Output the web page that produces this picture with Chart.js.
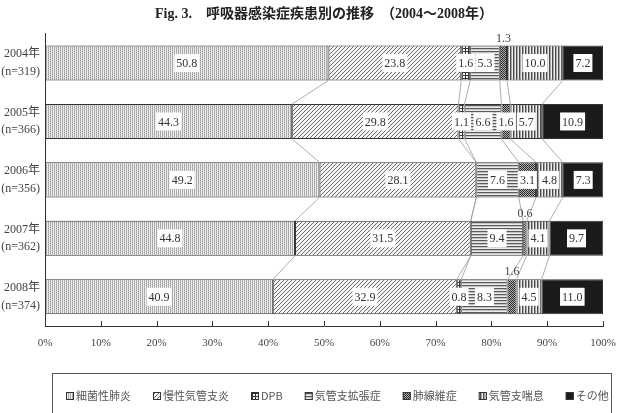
<!DOCTYPE html>
<html>
<head>
<meta charset="utf-8">
<script src="https://cdn.jsdelivr.net/npm/chart.js@4.4.0/dist/chart.umd.min.js"></script>
<style>
  body { margin: 0; background: #fff; }
</style>
</head>
<body>
<canvas id="chart" width="618" height="413"></canvas>
<script>
// データ（%）
const years = ['2004年', '2005年', '2006年', '2007年', '2008年'];
const nCounts = [319, 366, 356, 362, 374];
const diseases = ['細菌性肺炎', '慢性気管支炎', 'DPB', '気管支拡張症', '肺線維症', '気管支喘息', 'その他'];
const bacterialPneumonia = [50.8, 44.3, 49.2, 44.8, 40.9];
const chronicBronchitis = [23.8, 29.8, 28.1, 31.5, 32.9];
const dpb = [1.6, 1.1, 0, 0, 0.8];
const bronchiectasis = [5.3, 6.6, 7.6, 9.4, 8.3];
const fibrosis = [1.3, 1.6, 3.1, 0.6, 1.6];
const asthma = [10.0, 5.7, 4.8, 4.1, 4.5];
const others = [7.2, 10.9, 7.3, 9.7, 11.0];
const xTickLabels = ['0%', '10%', '20%', '30%', '40%', '50%', '60%', '70%', '80%', '90%', '100%'];

const serif = '"Liberation Serif", "Noto Sans CJK JP", serif';
const canvas = document.getElementById('chart');
const ctx = canvas.getContext('2d');

// ハッチング用のパターン
function tile(rows, palette) {
  const c = document.createElement('canvas');
  c.width = rows[0].length;
  c.height = rows.length;
  const t = c.getContext('2d');
  rows.forEach((r, j) => {
    [...r].forEach((ch, i) => {
      t.fillStyle = palette[ch];
      t.fillRect(i, j, 1, 1);
    });
  });
  return ctx.createPattern(c, 'repeat');
}

const fills = [
  tile(['dwgw', 'gwdw'], { d: '#9a9a9a', g: '#bcbcbc', w: '#ececec' }),
  tile(['...d', '..d.', '.d..', 'd...'], { d: '#6a6a6a', '.': '#f4f4f4' }),
  tile(['ddd', 'd..', 'd..'], { d: '#333', '.': '#fff' }),
  tile(['d', 'l', 'w'], { d: '#5a5a5a', l: '#c4c4c4', w: '#ececec' }),
  tile(['dl', 'ld'], { d: '#2a2a2a', l: '#b0b0b0' }),
  tile(['dlw'], { d: '#4a4a4a', l: '#a8a8a8', w: '#eeeeee' }),
  '#1b1b1b'
];

const seriesValues = [bacterialPneumonia, chronicBronchitis, dpb, bronchiectasis, fibrosis, asthma, others];

// 小さい値はバーの上に表示（行, 系列）
const aboveLabels = [[0, 4], [3, 4], [4, 4]];

const yLabels = years.map((y, i) => [y, '(n=' + nCounts[i] + ')']);

const barDecor = {
  id: 'barDecor',
  beforeDatasetsDraw(chart) {
    // 各バー間の連結線
    const c = chart.ctx;
    const x = chart.scales.x;
    const meta0 = chart.getDatasetMeta(0);
    c.save();
    c.strokeStyle = '#999';
    c.lineWidth = 0.8;
    for (let k = 0; k < seriesValues.length - 1; k++) {
      for (let j = 0; j < years.length - 1; j++) {
        let a = 0, b = 0;
        for (let s = 0; s <= k; s++) { a += seriesValues[s][j]; b += seriesValues[s][j + 1]; }
        const e1 = meta0.data[j], e2 = meta0.data[j + 1];
        c.beginPath();
        c.moveTo(x.getPixelForValue(a), e1.y + e1.height / 2);
        c.lineTo(x.getPixelForValue(b), e2.y - e2.height / 2);
        c.stroke();
      }
    }
    c.restore();
  },
  afterDatasetsDraw(chart) {
    const c = chart.ctx;
    c.save();
    c.font = '12px ' + serif;
    c.textAlign = 'center';
    c.textBaseline = 'middle';
    chart.data.datasets.forEach((ds, i) => {
      const meta = chart.getDatasetMeta(i);
      meta.data.forEach((bar, j) => {
        const v = ds.data[j];
        if (!v) return;
        const txt = v.toFixed(1);
        const cx = (bar.x + bar.base) / 2;
        const above = aboveLabels.some(p => p[0] === j && p[1] === i);
        if (above) {
          c.fillStyle = '#444';
          c.fillText(txt, cx, bar.y - bar.height / 2 - 7);
          return;
        }
        const w = c.measureText(txt).width + 4;
        c.fillStyle = '#fff';
        c.fillRect(cx - w / 2, bar.y - 9, w, 18);
        c.fillStyle = '#333';
        c.fillText(txt, cx, bar.y + 1);
      });
    });
    c.restore();
  },
  afterDraw(chart) {
    const c = chart.ctx;
    const x = chart.scales.x;
    const area = chart.chartArea;
    c.save();
    // 目盛り（内向き）
    c.strokeStyle = '#333';
    c.lineWidth = 1;
    x.ticks.forEach(t => {
      if (t.value === 0) return;
      const px = Math.round(x.getPixelForValue(t.value)) + 0.5;
      c.beginPath();
      c.moveTo(px, area.bottom);
      c.lineTo(px, area.bottom - 5);
      c.stroke();
    });
    // 凡例
    c.strokeStyle = '#555';
    c.strokeRect(52.5, 373.5, chart.width - 59, 60);
    c.font = '11px "Noto Sans CJK JP", sans-serif';
    c.textBaseline = 'middle';
    c.textAlign = 'left';
    let lx = 66;
    const ly = 396;
    diseases.forEach((d, i) => {
      c.fillStyle = fills[i];
      c.fillRect(lx, ly - 4, 8, 8);
      c.strokeStyle = '#333';
      c.strokeRect(lx + 0.5, ly - 3.5, 7, 7);
      c.fillStyle = '#555';
      c.fillText(d, lx + 10, ly);
      lx += 10 + c.measureText(d).width + 22;
    });
    c.restore();
  }
};

new Chart(ctx, {
  type: 'bar',
  data: {
    labels: yLabels,
    datasets: diseases.map((d, i) => ({
      label: d,
      data: seriesValues[i],
      backgroundColor: fills[i],
      borderColor: '#333',
      borderWidth: (c) => (c.raw ? 1 : 0),
      borderSkipped: false,
      barPercentage: 0.6,
      categoryPercentage: 1
    }))
  },
  options: {
    indexAxis: 'y',
    responsive: false,
    animation: false,
    layout: { padding: { left: 0, right: 15, top: 0, bottom: 0 } },
    plugins: {
      legend: { display: false },
      tooltip: { enabled: false },
      title: {
        display: true,
        fullSize: false,
        text: 'Fig. 3.　呼吸器感染症疾患別の推移　（2004〜2008年）',
        color: '#222',
        font: { size: 14, weight: 'bold', family: serif },
        padding: { top: 6, bottom: 11 }
      }
    },
    scales: {
      x: {
        stacked: true,
        min: 0,
        max: 100,
        ticks: {
          stepSize: 10,
          padding: 1,
          color: '#444',
          font: { size: 11, family: serif },
          callback: (v) => xTickLabels[v / 10]
        },
        grid: { display: false, drawTicks: true, tickLength: 10 },
        border: { display: true, color: '#333', width: 1 },
        afterFit: (s) => { s.height = 87; }
      },
      y: {
        stacked: true,
        ticks: {
          padding: 5,
          color: '#444',
          font: { size: 12, family: serif, lineHeight: 1.45 }
        },
        grid: { display: false, drawTicks: false },
        border: { display: true, color: '#333', width: 1 },
        afterFit: (s) => { s.width = 45; }
      }
    }
  },
  plugins: [barDecor]
});
</script>
</body>
</html>
